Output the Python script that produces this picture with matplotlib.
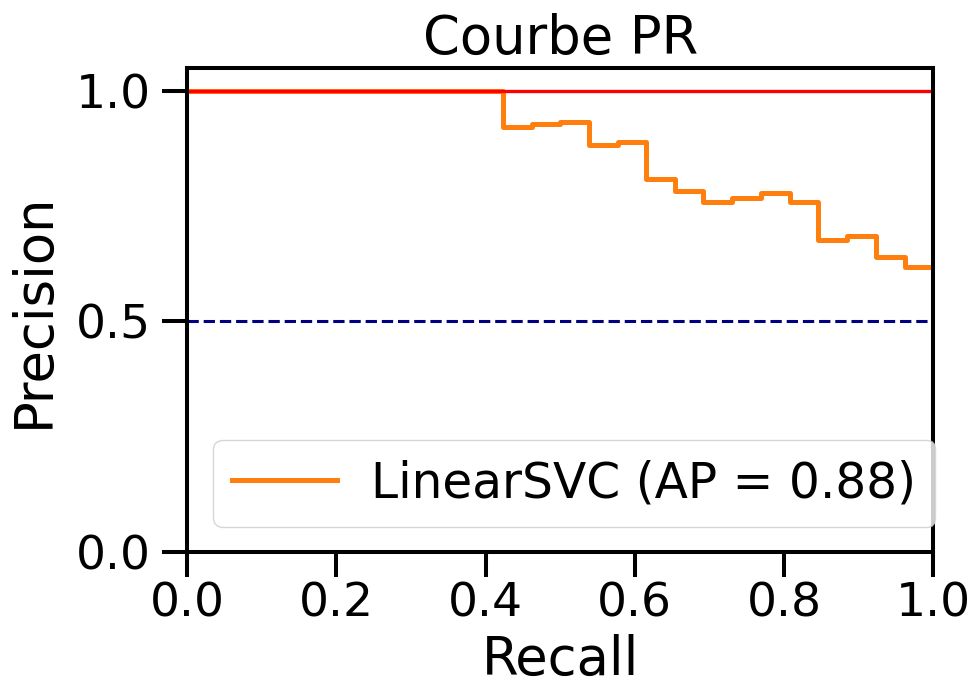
import numpy as np
import matplotlib
matplotlib.use("Agg")
import matplotlib.pyplot as plt

# recall breakpoints (right edge of each step) and precision level on each step
recall = [0.0, 0.423, 0.462, 0.500, 0.538, 0.577, 0.615, 0.654, 0.692,
          0.731, 0.769, 0.808, 0.846, 0.885, 0.923, 0.962, 1.0]
precision = [1.0, 1.0, 0.923, 0.929, 0.933, 0.882, 0.889, 0.810, 0.783,
             0.760, 0.769, 0.778, 0.759, 0.676, 0.686, 0.641, 0.619]
label = "LinearSVC (AP = 0.88)"
perfect_level = 1.0
baseline_level = 0.5

plt.rcParams["font.size"] = 34
plt.rcParams["axes.linewidth"] = 2.9
plt.rcParams["xtick.major.size"] = 18
plt.rcParams["ytick.major.size"] = 18
plt.rcParams["xtick.major.width"] = 2.9
plt.rcParams["ytick.major.width"] = 2.9
plt.rcParams["ytick.major.pad"] = 8

fig = plt.figure(figsize=(9.7, 6.88), dpi=100)
ax = fig.add_axes([0.193, 0.198, 0.769, 0.703])

ax.plot(recall, precision, color="#ff7f0e", lw=3.6, drawstyle="steps-pre", label=label)
ax.plot([0, 1], [perfect_level, perfect_level], color="red", lw=2.4)
ax.plot([0, 1], [baseline_level, baseline_level], color="navy", lw=2.2, ls="--")

ax.set_xlim(0, 1)
ax.set_ylim(0, 1.05)
ax.set_xticks([0.0, 0.2, 0.4, 0.6, 0.8, 1.0])
ax.set_yticks([0.0, 0.5, 1.0])
ax.set_xlabel("Recall", fontsize=38, labelpad=5)
ax.set_ylabel("Precision", fontsize=38, labelpad=12)
ax.set_title("Courbe PR", fontsize=38, pad=10)
ax.legend(loc="lower right", bbox_to_anchor=(1.003, 0.052), borderaxespad=0,
          fontsize=35, handlelength=2.15, handletextpad=0.7)

fig.savefig("out.png", dpi=100)
